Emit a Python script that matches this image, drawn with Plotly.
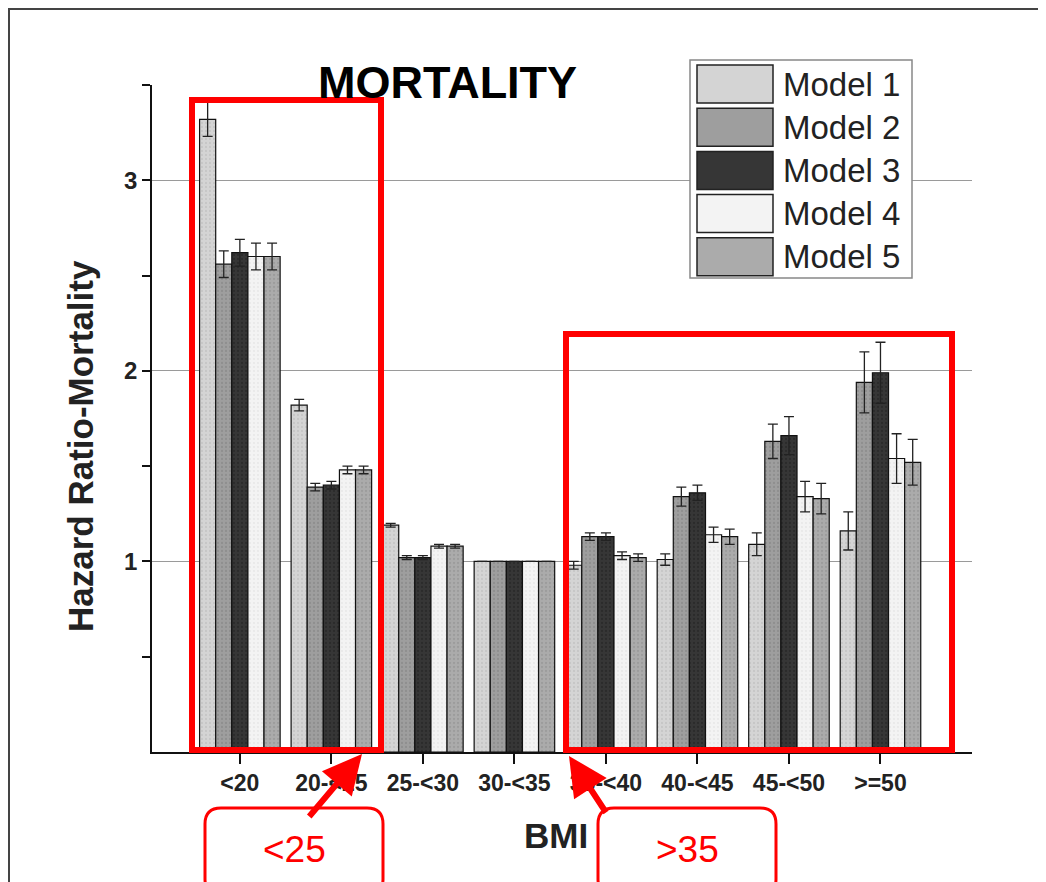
import plotly.graph_objects as go

# ---------------- data ----------------
categories = ["<20", "20-<25", "25-<30", "30-<35", "35-<40", "40-<45", "45-<50", ">=50"]
model_names = ["Model 1", "Model 2", "Model 3", "Model 4", "Model 5"]

m1 = [3.32, 1.82, 1.19, 1.00, 0.98, 1.01, 1.09, 1.16]
m2 = [2.56, 1.39, 1.02, 1.00, 1.13, 1.34, 1.63, 1.94]
m3 = [2.62, 1.40, 1.02, 1.00, 1.13, 1.36, 1.66, 1.99]
m4 = [2.60, 1.48, 1.08, 1.00, 1.03, 1.14, 1.34, 1.54]
m5 = [2.60, 1.48, 1.08, 1.00, 1.02, 1.13, 1.33, 1.52]

e1 = [0.09, 0.03, 0.01, 0.0, 0.02, 0.03, 0.06, 0.10]
e2 = [0.07, 0.02, 0.01, 0.0, 0.02, 0.05, 0.09, 0.16]
e3 = [0.07, 0.02, 0.01, 0.0, 0.02, 0.04, 0.10, 0.16]
e4 = [0.07, 0.02, 0.01, 0.0, 0.02, 0.04, 0.08, 0.13]
e5 = [0.07, 0.02, 0.01, 0.0, 0.02, 0.04, 0.08, 0.12]

values = [m1, m2, m3, m4, m5]
errors = [e1, e2, e3, e4, e5]
colors = ["#d4d4d4", "#9e9e9e", "#363636", "#f3f3f3", "#ababab"]
pattern_fg = ["#b8b8b8", "#7e7e7e", "#1e1e1e", "#e0e0e0", "#8c8c8c"]

y_tick_vals = [1, 2, 3]
y_minor_vals = [0.5, 1.5, 2.5, 3.5]

# ---------------- layout helpers (page pixel -> paper) ----------------
OFF = 8  # page body margin offset
W, H = 1046 - OFF, 882 - OFF
L, R, T, B = 152 - OFF, 74, 85 - OFF, 130
PW, PH = W - L - R, H - T - B


def px(x):
    return (x - OFF - L) / PW


def py(y):
    return (H - B - (y - OFF)) / PH


fig = go.Figure()
for name, vals, errs, col, fg in zip(model_names, values, errors, colors, pattern_fg):
    fig.add_trace(go.Bar(
        name=name, x=categories, y=vals,
        marker=dict(color=col, line=dict(color="#111111", width=1.2),
                    pattern=dict(shape=".", fgcolor=fg, size=4, solidity=0.25)),
        error_y=dict(type="data", array=errs, visible=True,
                     color="#222222", thickness=1.3, width=5),
        showlegend=False,
    ))

shapes = []
annotations = []

# custom legend
shapes.append(dict(type="rect", xref="paper", yref="paper",
                   x0=px(690), x1=px(912), y0=py(60), y1=py(278),
                   line=dict(color="#888888", width=1.5), fillcolor="white"))
for i, (name, col) in enumerate(zip(model_names, colors)):
    yc = 84 + i * 43.2
    shapes.append(dict(type="rect", xref="paper", yref="paper",
                       x0=px(697), x1=px(773), y0=py(yc - 19), y1=py(yc + 19),
                       line=dict(color="#222222", width=1.5), fillcolor=col))
    annotations.append(dict(xref="paper", yref="paper", x=px(781), y=py(yc),
                            text=name, showarrow=False, xanchor="left",
                            yanchor="middle",
                            font=dict(family="Arial", size=33, color="#222222")))

# title
annotations.append(dict(xref="paper", yref="paper", x=px(447), y=py(82),
                        text="<b>MORTALITY</b>", showarrow=False,
                        xanchor="center", yanchor="middle",
                        font=dict(family="Arial", size=45, color="#000000")))
# axis titles
annotations.append(dict(xref="paper", yref="paper", x=px(80), y=py(446),
                        text="<b>Hazard Ratio-Mortality</b>", showarrow=False,
                        textangle=-90, xanchor="center", yanchor="middle",
                        font=dict(family="Arial", size=35, color="#222222")))
annotations.append(dict(xref="paper", yref="paper", x=px(556), y=py(835),
                        text="<b>BMI</b>", showarrow=False,
                        xanchor="center", yanchor="middle",
                        font=dict(family="Arial", size=35, color="#222222")))

# red highlight boxes
shapes.append(dict(type="rect", xref="paper", yref="paper",
                   x0=px(192), x1=px(381), y0=py(750), y1=py(100),
                   line=dict(color="#ff0000", width=6)))
shapes.append(dict(type="rect", xref="paper", yref="paper",
                   x0=px(566), x1=px(952), y0=py(750), y1=py(334),
                   line=dict(color="#ff0000", width=6)))


def rounded(x0, y0, x1, y1, r):
    pts = [
        f"M {px(x0 + r)},{py(y0)}",
        f"L {px(x1 - r)},{py(y0)}",
        f"Q {px(x1)},{py(y0)} {px(x1)},{py(y0 + r)}",
        f"L {px(x1)},{py(y1 - r)}",
        f"Q {px(x1)},{py(y1)} {px(x1 - r)},{py(y1)}",
        f"L {px(x0 + r)},{py(y1)}",
        f"Q {px(x0)},{py(y1)} {px(x0)},{py(y1 - r)}",
        f"L {px(x0)},{py(y0 + r)}",
        f"Q {px(x0)},{py(y0)} {px(x0 + r)},{py(y0)}",
        "Z",
    ]
    return " ".join(pts)


for (x0, x1, label) in [(205, 383, "&lt;25"), (598, 776, "&gt;35")]:
    shapes.append(dict(type="path", xref="paper", yref="paper",
                       path=rounded(x0, 808, x1, 895, 16),
                       line=dict(color="#ff0000", width=3), fillcolor="white"))
    annotations.append(dict(xref="paper", yref="paper", x=px((x0 + x1) / 2),
                            y=py(849), text=label, showarrow=False,
                            xanchor="center", yanchor="middle",
                            font=dict(family="Arial", size=37, color="#ff0000")))

# arrows
annotations.append(dict(xref="paper", yref="paper", x=px(362), y=py(754),
                        text="", showarrow=True, axref="pixel", ayref="pixel",
                        ax=-54, ay=64, arrowhead=2, arrowsize=1.3,
                        arrowwidth=6, arrowcolor="#ff0000"))
annotations.append(dict(xref="paper", yref="paper", x=px(569), y=py(756),
                        text="", showarrow=True, axref="pixel", ayref="pixel",
                        ax=38, ay=58, arrowhead=2, arrowsize=1.3,
                        arrowwidth=6, arrowcolor="#ff0000"))

# outer frame
shapes.append(dict(type="rect", xref="paper", yref="paper",
                   x0=px(9), x1=px(1044), y0=py(900), y1=py(9),
                   line=dict(color="#444444", width=2), layer="below"))

fig.update_layout(
    width=W, height=H,
    margin=dict(l=L, r=R, t=T, b=B),
    paper_bgcolor="white", plot_bgcolor="white",
    barmode="group", bargap=0.12, bargroupgap=0.0,
    shapes=shapes, annotations=annotations,
    font=dict(family="Arial", color="#222222"),
)
fig.update_xaxes(
    type="category", range=[-0.96, 8.0],
    showline=True, linecolor="#111111", linewidth=1.5,
    ticks="outside", ticklen=10, tickwidth=1.5, tickcolor="#111111",
    tickfont=dict(family="Arial", size=23, color="#222222", weight="bold"),
    showgrid=False, zeroline=False,
)
fig.update_yaxes(
    range=[0, 3.5], tickvals=y_tick_vals,
    showline=True, linecolor="#111111", linewidth=1.5,
    ticks="outside", ticklen=8, tickwidth=1.5, tickcolor="#111111",
    tickfont=dict(family="Arial", size=24, color="#222222", weight="bold"),
    showgrid=True, gridcolor="#9a9a9a", gridwidth=1, zeroline=False,
    minor=dict(tickvals=y_minor_vals, ticks="outside", ticklen=8,
               tickwidth=1.5, tickcolor="#111111", showgrid=False),
)

fig.write_html("out.html")
